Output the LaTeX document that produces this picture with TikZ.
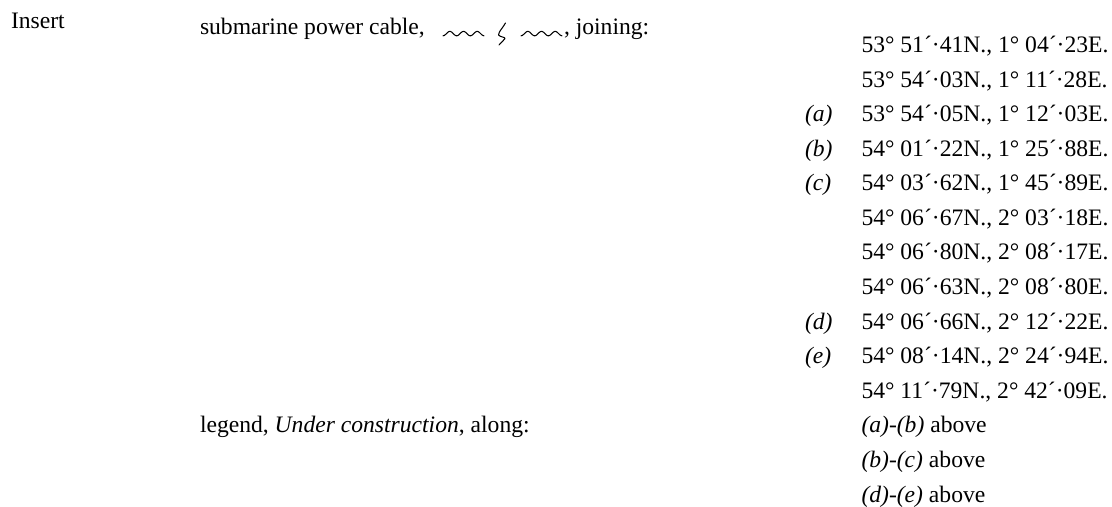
\documentclass[tikz,border=0pt]{standalone}
\usepackage{fontspec}
\setmainfont{Liberation Serif}
\tikzset{
  txt/.style={anchor=base west,inner sep=0pt,outer sep=0pt,font=\fontsize{23.6bp}{26bp}\selectfont},
  wig/.style={line width=1.05bp,line join=round,line cap=round}
}
\begin{document}
\begin{tikzpicture}[x=1bp,y=-1bp]
\useasboundingbox (0,0) rectangle (1112,507);
\fill[white] (0,0) rectangle (1112,507);
\node[txt] (ins) at (11,29) {Insert};
\node[txt] (sub) at (200,35) {submarine power cable,};
\node[txt] (join) at (564,35) {, joining:};
\draw[wig] plot[domain=0:41,samples=60] ({443+\x},{33.6+2.2*cos(360*\x/13.67)});
\draw[wig] plot[domain=0:41,samples=60] ({521+\x},{33.6+2.2*cos(360*\x/13.67)});
\coordinate (s1) at (505.5,23); \coordinate (s2) at (499,45);
\draw[wig] (s1) .. controls (502,29) and (499,31) .. (498.5,35) .. controls (500,37) and (505,37) .. (505,38.5) .. controls (504,41) and (501,42) .. (s2);
\foreach \n/\y/\t in {
 c1/52.7/{53° 51´·41N., 1° 04´·23E.},
 c2/87.3/{53° 54´·03N., 1° 11´·28E.},
 c3/121.8/{53° 54´·05N., 1° 12´·03E.},
 c4/156.4/{54° 01´·22N., 1° 25´·88E.},
 c5/191/{54° 03´·62N., 1° 45´·89E.},
 c6/225.5/{54° 06´·67N., 2° 03´·18E.},
 c7/260/{54° 06´·80N., 2° 08´·17E.},
 c8/294.6/{54° 06´·63N., 2° 08´·80E.},
 c9/329.2/{54° 06´·66N., 2° 12´·22E.},
 c10/363.7/{54° 08´·14N., 2° 24´·94E.},
 c11/398.3/{54° 11´·79N., 2° 42´·09E.}}
 {\node[txt] (\n) at (861.5,\y) {\t};}
\foreach \n/\y/\t in {a/121.8/(a),b/156.4/(b),c/191/(c),d/329.2/(d),e/363.7/(e)}
 {\node[txt] (l\n) at (805,\y) {\textit{\t}};}
\node[txt] (leg) at (200,432.9) {legend, \textit{Under construction}, along:};
\node[txt] (r1) at (861.5,432.9) {\textit{(a)-(b)} above};
\node[txt] (r2) at (861.5,467.4) {\textit{(b)-(c)} above};
\node[txt] (r3) at (861.5,502) {\textit{(d)-(e)} above};
\end{tikzpicture}
\end{document}
